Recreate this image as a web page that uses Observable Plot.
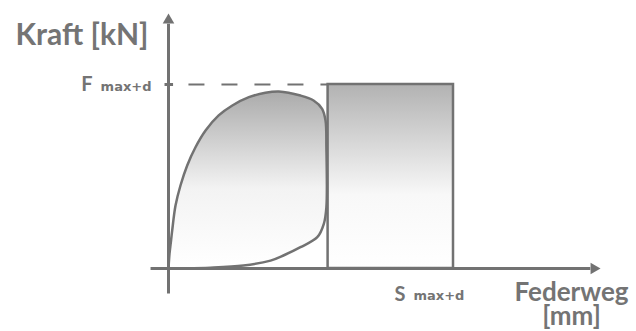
<!DOCTYPE html>
<html>
<head>
<meta charset="utf-8">
<script src="https://cdn.jsdelivr.net/npm/d3@7"></script>
<script src="https://cdn.jsdelivr.net/npm/@observablehq/plot@0.6"></script>
<style>
  html, body { margin: 0; padding: 0; background: #fff; }
  #chart svg { display: block; }
</style>
</head>
<body>
<div id="chart"></div>
<script>
// ---- data (schematic units: S max+d = 100, F max+d = 100) ----
const sMax = 100;           // S max+d
const fMax = 100;           // F max+d
const plateauStart = 56;    // start of rectangular (ideal) work area
const loopX = [0, 0.35, 0.8, 1.3, 2.46, 4.2, 6.56, 9.47, 13.0, 17.6, 22.4, 28.2, 34.0, 38.7, 46.3, 50.9, 53.9, 55.1, 55.4, 55.4, 54.5, 52.2, 46.3, 40.5, 35.8, 26.3, 14.7, 5, 0];
const loopY = [0, 8, 14, 20.7, 34.2, 45.1, 56.0, 65.9, 75.0, 83.2, 88.6, 93.1, 95.5, 96.2, 94.0, 91.3, 86.8, 80.4, 65.9, 33.3, 24.3, 17.0, 11.6, 7.2, 4.3, 1.6, 0.4, 0.05, 0];
const xAxisExtent = [-6.3, 148, 151.6];   // start, line end, arrow tip
const yAxisExtent = [-13.6, 133, 138.6];
const fTickExtent = [-1.4, 1.6];
const yLabel = "Kraft [kN]";
const xLabel = "Federweg\n[mm]";
const fLabel = ["F", "max+d"];
const sLabel = ["S", "max+d"];

const loop = loopX.map((x, i) => ({x, y: loopY[i]}));
const ink = "#727272";
const textInk = "#747474";
const mainFont = "Lato, 'Open Sans', sans-serif";
const subFont = "'DejaVu Sans', sans-serif";

const defs = () => {
  const d = d3.create("svg:defs");
  const g1 = d.append("linearGradient").attr("id", "gLoop").attr("x1", 0).attr("y1", 0).attr("x2", 0).attr("y2", 1);
  g1.append("stop").attr("offset", "0%").attr("stop-color", "#ababab");
  g1.append("stop").attr("offset", "55%").attr("stop-color", "#f3f3f3");
  g1.append("stop").attr("offset", "100%").attr("stop-color", "#ffffff");
  const g2 = d.append("linearGradient").attr("id", "gRect").attr("x1", 0).attr("y1", 0).attr("x2", 0).attr("y2", 1);
  g2.append("stop").attr("offset", "0%").attr("stop-color", "#b2b2b2");
  g2.append("stop").attr("offset", "60%").attr("stop-color", "#f8f8f8");
  g2.append("stop").attr("offset", "100%").attr("stop-color", "#ffffff");
  return d.node();
};

const hline = (x1, x2, y, opts) => Plot.link([{x1, x2, y}], {x1: "x1", x2: "x2", y1: "y", y2: "y", ...opts});

const chart = Plot.plot({
  width: 636,
  height: 331,
  x: {type: "linear", domain: [0, sMax], range: [168, 453], axis: null},
  y: {type: "linear", domain: [0, fMax], range: [268, 84], axis: null},
  style: {fontFamily: mainFont, background: "#fff"},
  marks: [
    defs,
    // ideal rectangle
    Plot.rect([{x1: plateauStart, x2: sMax, y1: 0, y2: fMax}], {
      x1: "x1", x2: "x2", y1: "y1", y2: "y2",
      fill: "url(#gRect)", stroke: ink, strokeWidth: 2.5, inset: 0
    }),
    // real hysteresis loop
    Plot.line(loop, {x: "x", y: "y", curve: "catmull-rom", fill: "url(#gLoop)", stroke: ink, strokeWidth: 2.5}),
    // dashed F max+d guide
    hline(7, plateauStart, fMax, {stroke: ink, strokeWidth: 2, strokeDasharray: "16,17"}),
    // axes
    hline(xAxisExtent[0], xAxisExtent[1], 0, {stroke: ink, strokeWidth: 3}),
    Plot.link([{y1: yAxisExtent[0], y2: yAxisExtent[1], x: 0}], {y1: "y1", y2: "y2", x1: "x", x2: "x", stroke: ink, strokeWidth: 3}),
    Plot.dot([{x: xAxisExtent[2], y: 0}], {x: "x", y: "y", symbol: "triangle", r: 4.3, rotate: 90, dx: -6.67, fill: ink, stroke: "none"}),
    Plot.dot([{x: 0, y: yAxisExtent[2]}], {x: "x", y: "y", symbol: "triangle", r: 4.3, dy: 6.67, fill: ink, stroke: "none"}),
    // F tick
    hline(fTickExtent[0], fTickExtent[1], fMax, {stroke: ink, strokeWidth: 3}),
    // labels
    Plot.text([yLabel], {x: 0, y: yAxisExtent[2], text: d => d, textAnchor: "end", dx: -20, dy: 22, fontSize: 30, fontWeight: "bold", fill: textInk}),
    Plot.text([fLabel[0]], {x: 0, y: fMax, text: d => d, textAnchor: "end", dx: -76, dy: 0.3, fontSize: 20, fontWeight: "bold", fill: textInk}),
    Plot.text([fLabel[1]], {x: 0, y: fMax, text: d => d, textAnchor: "end", dx: -17, dy: 2.5, fontSize: 13, fontWeight: "bold", fontFamily: subFont, fill: textInk}),
    Plot.text([sLabel[0]], {x: sMax, y: 0, text: d => d, textAnchor: "end", dx: -48, dy: 25.6, fontSize: 20, fontWeight: "bold", fill: textInk}),
    Plot.text([sLabel[1]], {x: sMax, y: 0, text: d => d, textAnchor: "start", dx: -40, dy: 27.8, fontSize: 13, fontWeight: "bold", fontFamily: subFont, fill: textInk}),
    Plot.text([xLabel], {x: xAxisExtent[2], y: 0, text: d => d, textAnchor: "middle", dx: -29, dy: 36.5, fontSize: 26, lineHeight: 0.96, fontWeight: "bold", fill: textInk})
  ]
});
document.getElementById("chart").appendChild(chart);
</script>
</body>
</html>
